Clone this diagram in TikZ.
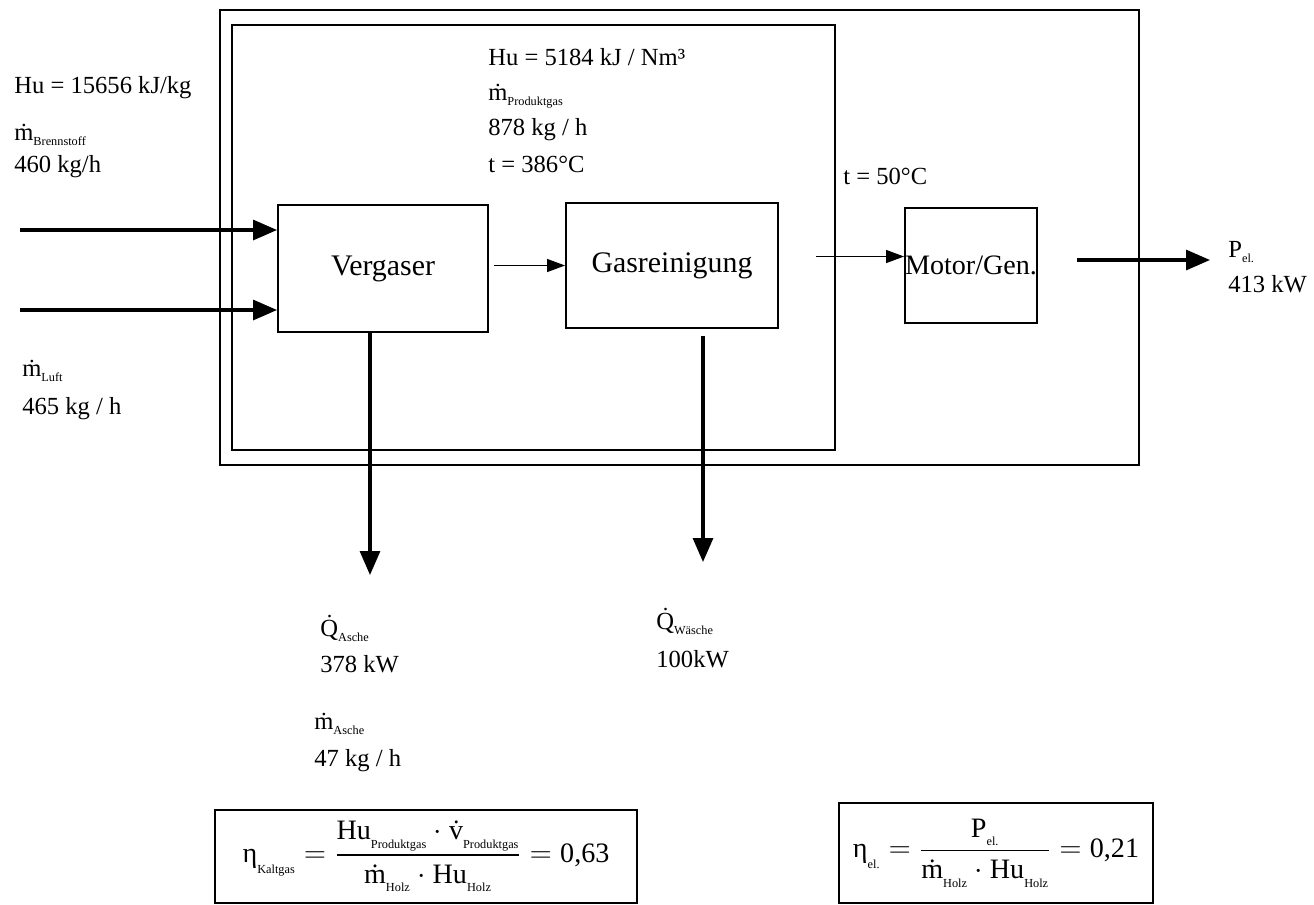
\documentclass[tikz,border=0pt]{standalone}
\usepackage{amsmath}
\usepackage{fontspec}
\setmainfont{Liberation Serif}
\usetikzlibrary{arrows.meta, calc}

\newcommand{\lsub}[1]{\raisebox{-0.45ex}{\fontsize{7}{8}\selectfont #1}}

\tikzset{
	blockbox/.style={draw, line width=1.1pt, inner sep=0pt, font=\fontsize{17}{20}\selectfont},
	formbox/.style={draw, line width=1.1pt, inner sep=0pt, minimum height=1.86cm, font=\fontsize{16}{19}\selectfont},
	lbl/.style={anchor=base west, inner sep=0pt, font=\fontsize{14}{16}\selectfont},
	flowarrow/.style={line width=1.8pt, -{Triangle[length=0.48cm, width=0.4cm]}},
	thinarrow/.style={line width=0.7pt, -{Triangle[length=0.36cm, width=0.26cm]}}
}

\begin{document}
\begin{tikzpicture}[x=0.02cm, y=-0.02cm]
		\useasboundingbox (0,0) rectangle (1314,904);

		% Anlagengrenze und Vergasungsteil
		\draw [line width=1.6pt] (220,10) rectangle (1139,465);
		\draw [line width=1.1pt] (232,25) rectangle (835,450);

		% Bloecke
		\node [blockbox, minimum width=4.2cm, minimum height=2.54cm] (verg) at (383,268.5) {Vergaser};
		\node [blockbox, minimum width=4.24cm, minimum height=2.5cm] (gasr) at (672,265.5) {Gasreinigung};
		\node [blockbox, minimum width=2.6cm, minimum height=2.3cm, font=\fontsize{16}{19}\selectfont] (motor) at (971,265.5) {Motor/Gen.};

		% freie Enden
		\coordinate (brennst) at (20,230);
		\coordinate (luft) at (20,310);
		\coordinate (pel) at (1210,260);
		\coordinate (asche) at (370,575);
		\coordinate (waesche) at (703,562);

		\draw [flowarrow] (brennst) -- (brennst -| verg.west);
		\draw [flowarrow] (luft) -- (luft -| verg.west);
		\draw [thinarrow, shorten <=0.1cm] (verg.east |- gasr.west) -- (gasr.west);
		\draw [thinarrow, shorten <=0.74cm] ($(gasr.east)+(0,-9)$) -- ($(motor.west)+(0,-9)$);
		\draw [flowarrow, shorten <=0.78cm] (motor.east |- pel) -- (pel);
		\draw [flowarrow] (verg.south -| asche) -- (asche);
		\draw [flowarrow, shorten <=0.14cm] (gasr.south -| waesche) -- (waesche);

		% Stoff- und Energiedaten
		\node [lbl] (hubr) at (14,93) {Hu = 15656 kJ/kg};
		\node [lbl] (mbr) at (14,140) {\.m\lsub{Brennstoff}};
		\node [lbl] (mbrval) at (14,172) {460 kg/h};

		\node [lbl] (hupg) at (488,65) {Hu = 5184 kJ / Nm³};
		\node [lbl] (mpg) at (488,100) {\.m\lsub{Produktgas}};
		\node [lbl] (mpgval) at (488,135) {878 kg / h};
		\node [lbl] (tpg) at (488,172) {t = 386°C};

		\node [lbl] (tmot) at (843,184) {t = 50°C};

		\node [lbl] (pelname) at (1228,257) {P\lsub{el.}};
		\node [lbl] (pelval) at (1228,292) {413 kW};

		\node [lbl] (mluft) at (22,376) {\.m\lsub{Luft}};
		\node [lbl] (mluftval) at (22,414) {465 kg / h};

		\node [lbl] (qasche) at (320,636) {\.Q\lsub{Asche}};
		\node [lbl] (qascheval) at (320,672) {378 kW};
		\node [lbl] (masche) at (314,729) {\.m\lsub{Asche}};
		\node [lbl] (mascheval) at (314,766) {47 kg / h};

		\node [lbl] (qwaesche) at (656,629) {\.Q\lsub{Wäsche}};
		\node [lbl] (qwaescheval) at (656,667) {100kW};

		% Wirkungsgrade
		\node [formbox, minimum width=8.44cm] (etakalt) at (426,856.5)
			{$\text{η}_{\text{\lsub{Kaltgas}}} = \dfrac{\text{Hu}_{\text{\lsub{Produktgas}}}\cdot\text{\.v}_{\text{\lsub{Produktgas}}}}{\text{\.m}_{\text{\lsub{Holz}}}\cdot\text{Hu}_{\text{\lsub{Holz}}}} = \text{0,63}$};
		\node [formbox, minimum width=6.28cm, minimum height=2cm] (etael) at (996,853)
			{$\text{η}_{\text{\lsub{el.}}} = \dfrac{\text{P}_{\text{\lsub{el.}}}}{\text{\.m}_{\text{\lsub{Holz}}}\cdot\text{Hu}_{\text{\lsub{Holz}}}} = \text{0,21}$};
	\end{tikzpicture}
\end{document}
